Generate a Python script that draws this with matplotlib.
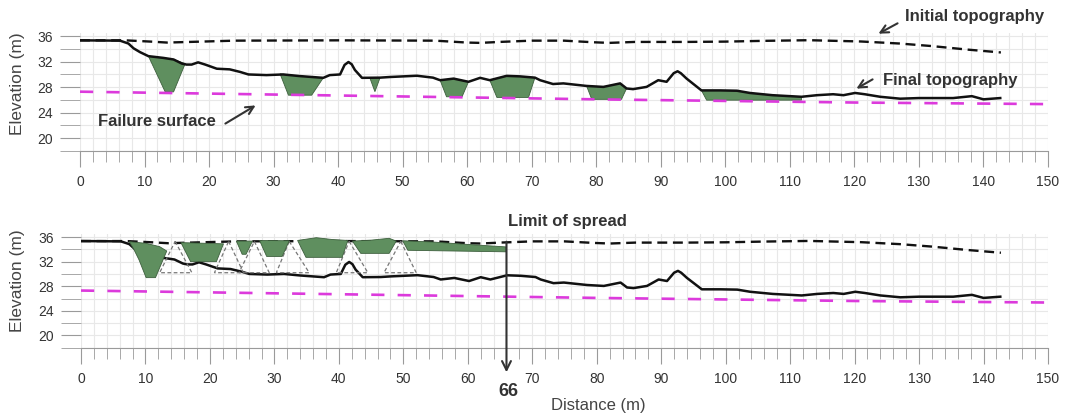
import matplotlib
matplotlib.use("Agg")
import matplotlib.pyplot as plt
from matplotlib.patches import Polygon, FancyArrowPatch

plt.rcParams['font.family'] = ['Liberation Sans', 'DejaVu Sans']

# topografia inicial (discontinua negra)
x_inicial = [0, 7, 11, 13.5, 17, 24, 40, 55, 60, 62, 65, 70, 75, 79.5, 82, 86, 94, 100, 106, 113, 121, 127, 132, 137.5, 142.7]
y_inicial = [35.35, 35.35, 35.15, 35.0, 35.1, 35.3, 35.35, 35.3, 35.0, 34.95, 35.1, 35.3, 35.3, 35.05, 34.95, 35.1, 35.1, 35.15, 35.27, 35.37, 35.17, 34.85, 34.45, 33.9, 33.45]

# topografia final (continua negra)
topo_final = [(0, 35.35), (6.2, 35.3), (7.5, 34.85), (8.3, 34.1), (9.3, 33.5), (10.6, 32.87),
              (12.9, 32.6), (14.5, 32.35), (15.8, 31.7), (16.5, 31.55), (17.3, 31.55), (18.3, 31.9),
              (19.4, 31.55), (21.2, 30.9), (23.2, 30.8), (24.8, 30.4), (26.1, 30.0), (28.9, 29.9),
              (31.5, 30.0), (34, 29.75), (37.7, 29.47), (38.7, 29.9), (40.3, 30.0), (41.0, 31.5),
              (41.6, 31.95), (42.1, 31.6), (42.6, 30.7), (43.7, 29.47), (46.5, 29.5), (48.0, 29.6),
              (52.2, 29.8), (54.7, 29.5), (55.8, 29.1), (57.9, 29.35), (60.2, 28.85), (62.0, 29.47),
              (63.5, 29.1), (66.1, 29.78), (68.2, 29.7), (70.5, 29.5), (71.3, 29.1), (73.3, 28.5),
              (74.9, 28.6), (78.5, 28.2), (81.1, 28.05), (83.7, 28.6), (84.7, 27.8), (85.7, 27.7),
              (87.8, 28.05), (89.6, 29.1), (90.9, 28.85), (92.0, 30.2), (92.6, 30.5), (93.1, 30.2),
              (94.0, 29.35), (96.3, 27.5), (99.2, 27.5), (101.8, 27.45), (103.8, 27.1), (107.3, 26.75),
              (111.8, 26.5), (114.2, 26.75), (116.7, 26.9), (118.3, 26.75), (120.1, 27.1), (121.6, 26.9),
              (124, 26.5), (127.1, 26.2), (130, 26.3), (135.3, 26.3), (138.2, 26.6), (140, 26.1),
              (142.6, 26.3)]

# superficie de falla (discontinua magenta)
x_falla = [0, 40, 80, 120, 150]
y_falla = [27.3, 26.7, 26.1, 25.6, 25.35]

# grabens rellenos en el perfil final
grabens = [
    [(10.6, 32.87), (12.9, 32.6), (14.5, 32.35), (16.3, 31.7), (14.5, 27.27), (13.2, 27.27)],
    [(31.0, 30.1), (34, 29.75), (37.7, 29.47), (35.9, 26.75), (32.3, 26.75)],
    [(44.9, 29.5), (46.5, 29.5), (45.7, 27.3)],
    [(55.8, 29.1), (57.9, 29.35), (60.2, 28.85), (59.2, 26.5), (56.8, 26.5)],
    [(63.5, 29.1), (66.1, 29.78), (68.2, 29.7), (70.5, 29.5), (69.5, 26.4), (64.6, 26.4)],
    [(78.5, 28.2), (81.1, 28.05), (83.7, 28.6), (84.7, 27.8), (83.9, 26.1), (79.3, 26.1)],
    [(96.3, 27.5), (99.2, 27.5), (101.8, 27.45), (103.8, 27.1), (107.3, 26.75), (111.8, 26.5),
     (111.8, 25.97), (97.1, 25.97)],
]

# bloques restaurados (panel inferior)
bloques = [
    [(7.5, 35.25), (10.1, 34.98), (12.2, 34.44), (13.3, 33.73), (11.55, 29.4), (10.1, 29.4), (9.0, 32.3), (8.2, 34.0)],
    [(15.5, 35.1), (22.1, 34.9), (21.0, 32.0), (17.0, 32.0)],
    [(24.1, 35.35), (26.6, 35.35), (25.6, 33.2), (25.0, 33.2)],
    [(27.7, 35.45), (32.3, 35.4), (31.2, 32.85), (28.8, 32.85)],
    [(33.6, 35.45), (36.5, 35.9), (39.0, 35.6), (41.4, 35.45), (40.5, 32.7), (34.9, 32.7)],
    [(42.1, 35.35), (45, 35.5), (47.8, 35.8), (48.9, 35.35), (47.8, 33.35), (43.4, 33.35)],
    [(49.9, 35.4), (54.5, 35.2), (60.0, 34.8), (65.9, 34.4), (65.9, 33.6), (50.7, 33.85)],
]

# triangulos de hueco (vertice, base izq, base der)
tri_vertice = [14.6, 22.9, 26.9, 32.3, 41.6, 49.6]
tri_izq = [12.2, 20.7, 24.5, 30.3, 39.6, 47.0]
tri_der = [17.2, 25.2, 29.2, 35.4, 44.5, 52.0]
tri_y_top = 35.3
tri_y_base = 30.2

limite = 66

VERDE = '#5f8f5f'
BORDE = '#3d5f3d'
MAGENTA = '#dc3adc'
GRIS = '#333333'

fig = plt.figure(figsize=(10.65, 4.15), dpi=100)
W, H = 1065, 415

def px(x, y):
    return x / W, 1 - y / H

ax1 = fig.add_axes([80 / W, 1 - 151 / H, 968 / W, 118 / H])
ax2 = fig.add_axes([81 / W, 1 - 347.7 / H, 967 / W, 113.7 / H])

xf = [p[0] for p in topo_final]
yf = [p[1] for p in topo_final]

for ax in (ax1, ax2):
    ax.set_xlim(0, 150)
    ax.set_ylim(18, 36.5)
    ax.set_xticks(range(0, 151, 10))
    ax.set_xticks(range(0, 151, 2), minor=True)
    ax.set_yticks([20, 24, 28, 32, 36])
    ax.set_yticks(range(18, 37, 2), minor=True)
    ax.grid(which='both', color='#e8e8e8', lw=0.8)
    ax.set_axisbelow(True)
    for s in ('top', 'right', 'left'):
        ax.spines[s].set_visible(False)
    ax.spines['bottom'].set_color('#9a9a9a')
    ax.tick_params(axis='x', which='major', length=11.5, color='#9a9a9a', labelsize=10, labelcolor=GRIS, pad=6)
    ax.tick_params(axis='x', which='minor', length=8, color='#9a9a9a')
    ax.tick_params(axis='y', which='both', length=14.4, color='#9a9a9a', labelsize=10, labelcolor=GRIS, pad=5)
    ax.plot(x_falla, y_falla, color=MAGENTA, lw=1.9, dashes=(5, 5), zorder=3)
    ax.plot(x_inicial, y_inicial, color='#111111', lw=1.7, dashes=(4.2, 2.4), zorder=4)

for g in grabens:
    ax1.add_patch(Polygon(g, closed=True, facecolor=VERDE, edgecolor=BORDE, lw=0.6, zorder=2))
ax1.plot(xf, yf, color='#111111', lw=1.8, zorder=5)

ax2.plot(xf, yf, color='#111111', lw=1.8, zorder=3)
for a, l, r in zip(tri_vertice, tri_izq, tri_der):
    ax2.add_patch(Polygon([(a, tri_y_top), (r, tri_y_base), (l, tri_y_base)], closed=True,
                          fill=False, edgecolor='#777777', lw=0.9, ls=(0, (3, 2)), zorder=4))
for b in bloques:
    ax2.add_patch(Polygon(b, closed=True, facecolor=VERDE, edgecolor=BORDE, lw=0.6, zorder=5))

# anotaciones panel superior
fig.text(*px(905, 17), 'Initial topography', fontsize=12, fontweight='bold', color=GRIS, va='center')
fig.text(*px(883, 80), 'Final topography', fontsize=12, fontweight='bold', color=GRIS, va='center')
fig.text(*px(98, 122), 'Failure surface', fontsize=12, fontweight='bold', color=GRIS, va='center')
for tail, head in [((900, 22), (876, 35)), ((875, 78), (854, 90)), ((223, 125), (258, 104))]:
    fig.add_artist(FancyArrowPatch(px(*tail), px(*head), transform=fig.transFigure,
                                   arrowstyle='->', lw=1.5, color=GRIS, mutation_scale=14))

# limite de propagacion
fig.text(*px(567, 221), 'Limit of spread', fontsize=12, fontweight='bold', color=GRIS, ha='center', va='center')
ax2.annotate('', xy=(limite, 14.0), xytext=(limite, 35.25), annotation_clip=False,
             arrowprops=dict(arrowstyle='->', lw=1.5, color=GRIS, mutation_scale=16, shrinkA=0, shrinkB=0), zorder=6)
fig.text(*px(508, 391), str(limite), fontsize=13, fontweight='bold', color=GRIS, ha='center', va='center')

fig.text(*px(598, 405), 'Distance (m)', fontsize=12, color='#444444', ha='center', va='center')
fig.text(*px(18, 84), 'Elevation (m)', fontsize=12.5, color='#444444', rotation=90, ha='center', va='center')
fig.text(*px(18, 281), 'Elevation (m)', fontsize=12.5, color='#444444', rotation=90, ha='center', va='center')

fig.savefig('out.png', dpi=100, facecolor='white')
